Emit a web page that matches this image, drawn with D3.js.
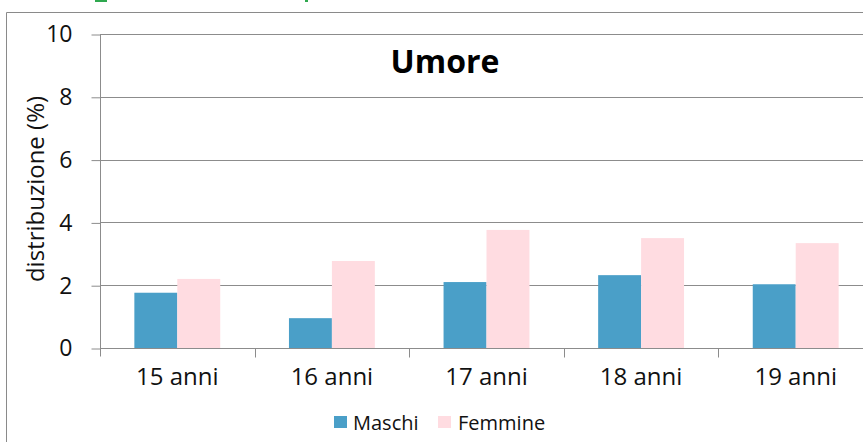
<!DOCTYPE html>
<html>
<head>
<meta charset="utf-8">
<script src="https://cdn.jsdelivr.net/npm/d3@7"></script>
<style>
  body { margin: 0; background: #fff; }
  svg { display: block; font-family: "Open Sans", sans-serif; }
</style>
</head>
<body>
<div id="chart"></div>
<script>
var categories = ["15 anni", "16 anni", "17 anni", "18 anni", "19 anni"];
var seriesNames = ["Maschi", "Femmine"];
var maschi = [1.76, 0.95, 2.1, 2.32, 2.03];
var femmine = [2.2, 2.77, 3.76, 3.5, 3.34];
var yTicks = [0, 2, 4, 6, 8, 10];
var colors = ["#4a9fc8", "#ffdce1"];

var WIDTH = 863, HEIGHT = 442;
var plotLeft = 100, plotRight = 873, plotTop = 34, plotBottom = 348;

var svg = d3.select("#chart").append("svg")
    .attr("width", WIDTH)
    .attr("height", HEIGHT);

// bits of the cropped header above the frame
svg.append("rect").attr("x", 95).attr("y", 0).attr("width", 12).attr("height", 2).attr("fill", "#2fa84f");
svg.append("rect").attr("x", 305).attr("y", 0).attr("width", 3).attr("height", 2).attr("fill", "#2fa84f");

// outer frame
svg.append("path")
    .attr("d", "M6.5,442V12.5H863")
    .attr("fill", "none")
    .attr("stroke", "#8a8a8a")
    .attr("stroke-width", 1);

var x = d3.scaleBand().domain(categories).range([plotLeft, plotRight]);
var xInner = d3.scaleBand().domain(seriesNames)
    .range([0, x.bandwidth()]).paddingOuter(0.8).paddingInner(0);
var y = d3.scaleLinear().domain([0, 10]).range([plotBottom, plotTop]);

// gridlines
svg.append("g").selectAll("line")
    .data(yTicks.filter(function (d) { return d > 0; }))
    .enter().append("line")
    .attr("x1", plotLeft).attr("x2", plotRight)
    .attr("y1", function (d) { return Math.round(y(d)) + 0.5; })
    .attr("y2", function (d) { return Math.round(y(d)) + 0.5; })
    .attr("stroke", "#8c8c8c");

// bars
var groups = svg.append("g").selectAll("g")
    .data(categories)
    .enter().append("g")
    .attr("transform", function (d) { return "translate(" + x(d) + ",0)"; });

groups.selectAll("rect")
    .data(function (d, i) {
        return [{ s: "Maschi", v: maschi[i] }, { s: "Femmine", v: femmine[i] }];
    })
    .enter().append("rect")
    .attr("x", function (d) { return xInner(d.s); })
    .attr("width", xInner.bandwidth())
    .attr("y", function (d) { return y(d.v); })
    .attr("height", function (d) { return plotBottom - y(d.v); })
    .attr("fill", function (d, i) { return colors[i]; });

// y axis
var yAxis = svg.append("g")
    .attr("transform", "translate(" + (plotLeft + 0.5) + ",0.5)")
    .call(d3.axisLeft(y).tickValues(yTicks).tickSize(9).tickPadding(19));
yAxis.select(".domain").attr("stroke", "#8c8c8c")
    .attr("d", "M0," + Math.round(plotTop) + "V" + (plotBottom + 8));
yAxis.selectAll(".tick line").attr("stroke", "#8c8c8c");
yAxis.selectAll("text").attr("font-size", 23).attr("fill", "#111")
    .attr("font-family", "'Open Sans', sans-serif");

// x axis
var xAxis = svg.append("g")
    .attr("transform", "translate(0," + (plotBottom + 0.5) + ")");
xAxis.append("line")
    .attr("x1", plotLeft).attr("x2", plotRight)
    .attr("stroke", "#8c8c8c");
xAxis.selectAll("line.tk")
    .data(categories.slice(1))
    .enter().append("line")
    .attr("class", "tk")
    .attr("x1", function (d) { return Math.round(x(d)) + 0.5; })
    .attr("x2", function (d) { return Math.round(x(d)) + 0.5; })
    .attr("y1", 0).attr("y2", 9)
    .attr("stroke", "#8c8c8c");
xAxis.selectAll("text")
    .data(categories)
    .enter().append("text")
    .attr("x", function (d) { return x(d) + x.bandwidth() / 2; })
    .attr("y", 36.5)
    .attr("text-anchor", "middle")
    .attr("font-size", 24)
    .attr("fill", "#111")
    .text(function (d) { return d; });

// y label
svg.append("text")
    .attr("transform", "translate(44,189)rotate(-90)")
    .attr("text-anchor", "middle")
    .attr("font-size", 24)
    .attr("fill", "#111")
    .text("distribuzione (%)");

// title
svg.append("text")
    .attr("x", 445).attr("y", 73)
    .attr("text-anchor", "middle")
    .attr("font-size", 32)
    .attr("font-weight", "bold")
    .attr("fill", "#000")
    .text("Umore");

// legend
var legendX = [334, 438];
var legend = svg.append("g").selectAll("g")
    .data(seriesNames)
    .enter().append("g")
    .attr("transform", function (d, i) { return "translate(" + legendX[i] + ",416)"; });
legend.append("rect")
    .attr("width", 13).attr("height", 12)
    .attr("fill", function (d, i) { return colors[i]; });
legend.append("text")
    .attr("x", function (d, i) { return i === 0 ? 19 : 20; })
    .attr("y", 14)
    .attr("font-size", 20)
    .attr("fill", "#111")
    .text(function (d) { return d; });
</script>
</body>
</html>
